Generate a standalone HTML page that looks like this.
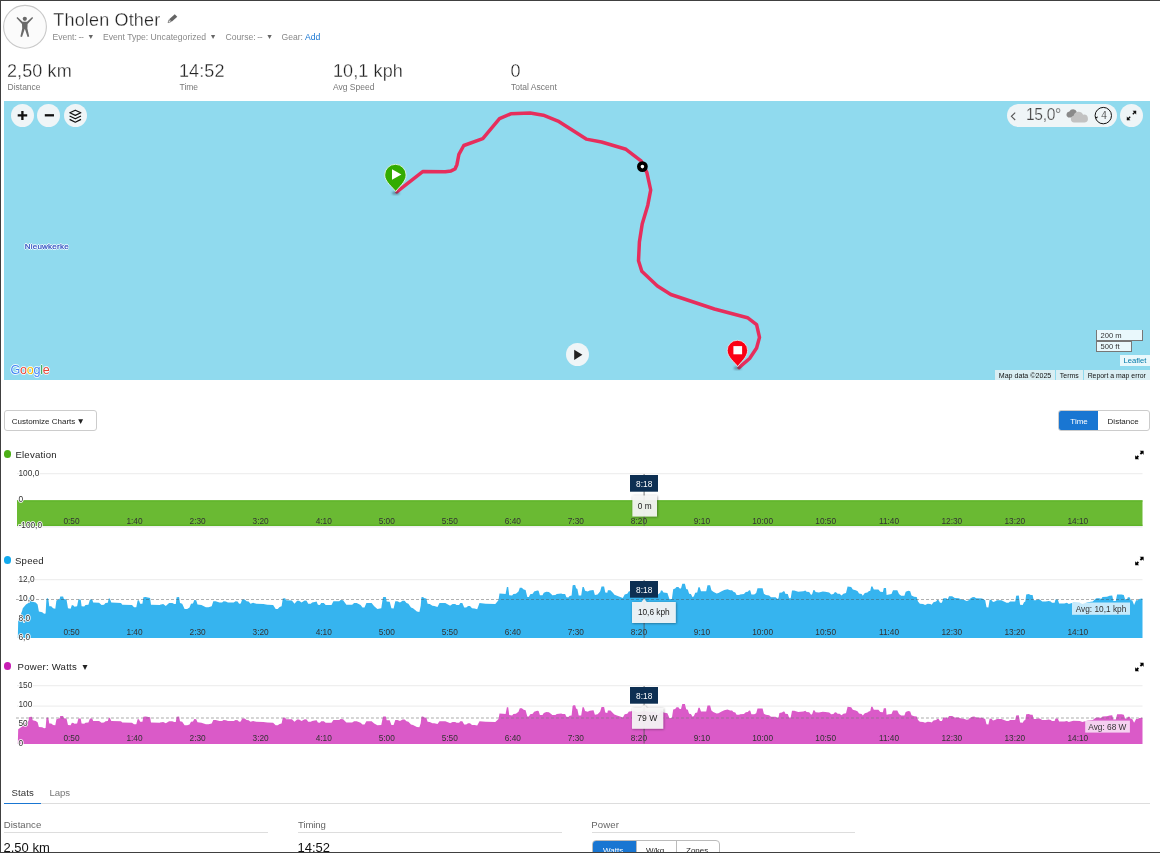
<!DOCTYPE html>
<html><head><meta charset="utf-8"><title>Tholen Other</title>
<style>
*{box-sizing:border-box;margin:0;padding:0}
html,body{width:1160px;height:853px;overflow:hidden;background:#fff}
body{font-family:"Liberation Sans",sans-serif;color:#222;position:relative}
.abs{position:absolute}
.bt{left:0;top:0;width:1160px;height:1px;background:#404040}
.bl{left:0;top:0;width:1px;height:853px;background:#404040}
.bb{left:0;top:852px;width:1160px;height:1px;background:#404040}
.t{position:absolute;white-space:nowrap;line-height:1}
.title{left:53.3px;top:10.85px;font-size:18px;color:#222;letter-spacing:.17px;-webkit-text-stroke:.3px #fff}
.sub{font-size:8.6px;color:#888;top:32.7px}
.ar{font-size:7.2px;position:relative;top:-0.4px;margin-left:1.2px;color:#666}
.val{font-size:18px;color:#222;top:61.5px;letter-spacing:.1px;-webkit-text-stroke:.3px #fff}
.lab{font-size:8.5px;color:#777;top:82.7px}
#map{left:4px;top:101px;width:1146px;height:279px;background:#90daee;overflow:hidden}
.cbtn{position:absolute;width:23px;height:23px;border-radius:50%;background:#eff5f7}
#wrap{position:absolute;left:0;top:0;width:1160px;height:853px;will-change:transform;overflow:hidden}
</style></head><body><div id="wrap">
<div class="abs bt"></div><div class="abs bl"></div><div class="abs bb"></div>

<!-- header -->
<svg class="abs" style="left:3px;top:4px" width="45" height="45" viewBox="0 0 45 45">
<circle cx="22" cy="22.8" r="21.4" fill="#fbfbfb" stroke="#c8c8c8" stroke-width="1.1"/>
<g fill="#6a6a6a"><circle cx="21.8" cy="14.8" r="2.1"/>
<path d="M13.5,13.9 L14.4,13.1 L19.6,17.8 L24,17.8 L29.2,13.1 L30.1,13.9 L24.6,20 L24.4,24.5 L26.2,32.6 L24.6,32.9 L21.8,24.8 L19,32.9 L17.4,32.6 L19.2,24.5 L19,20 Z"/></g>
</svg>
<div class="t title">Tholen Other</div>
<svg class="abs" style="left:167px;top:13.2px" width="11.9" height="10.8" viewBox="0 0 11 10"><path d="M7.2,1.1 L9.5,3.4 L4.3,8 L2,5.7 Z" fill="#646464"/><path d="M1.8,6.3 L3.6,8.1 L1,9 Z" fill="#fff" stroke="#6a6a6a" stroke-width=".7" stroke-linejoin="round"/></svg>
<div class="t sub" style="left:52.5px">Event:<span style="letter-spacing:-0.3px;margin-left:1.6px">--</span> <span class="ar">&#9660;</span></div>
<div class="t sub" style="left:103px">Event Type: Uncategorized <span class="ar">&#9660;</span></div>
<div class="t sub" style="left:225.5px">Course:<span style="letter-spacing:-0.3px;margin-left:1.6px">--</span> <span class="ar">&#9660;</span></div>
<div class="t sub" style="left:281.5px">Gear: <span style="color:#1976d2">Add</span></div>

<!-- stats -->
<div class="t val" style="left:7px">2,50 km</div><div class="t lab" style="left:7.5px">Distance</div>
<div class="t val" style="left:179px">14:52</div><div class="t lab" style="left:179.5px">Time</div>
<div class="t val" style="left:333px">10,1 kph</div><div class="t lab" style="left:333px">Avg Speed</div>
<div class="t val" style="left:510.5px">0</div><div class="t lab" style="left:511px">Total Ascent</div>

<!-- map -->
<div id="map" class="abs">

<!-- pins -->
<svg class="abs" style="left:0;top:0" width="1146" height="279" viewBox="4 101 1146 279">
<defs><filter id="bl" x="-50%" y="-50%" width="200%" height="200%"><feGaussianBlur stdDeviation="1.2"/></filter></defs>
<path d="M396.8,191.8 L422.7,171.6 L445.3,171.8 L451.1,170.9 L455.0,169.0 L456.9,164.7 L458.9,154.3 L463.8,145.5 L482.8,138.6 L499.5,118.7 L510.8,113.8 L530.2,113.0 L543.3,115.2 L558.0,121.1 L586.2,139.1 L601.5,142.0 L626.0,149.3 L641.0,160.8 L646.9,172.6 L650.7,190.0 L647.8,205.2 L642.2,224.0 L639.4,242.0 L638.5,260.8 L641.8,271.2 L657.4,286.0 L670.8,294.5 L714.4,309.0 L747.5,317.7 L756.6,324.7 L759.5,337.4 L756.6,348.0 L749.6,358.5 L739.0,367.6" fill="none" stroke="#e62e5c" stroke-width="3.5" stroke-linejoin="round" stroke-linecap="round"/>
<ellipse cx="395.8" cy="193" rx="3.8" ry="1.5" fill="#234" opacity=".5" filter="url(#bl)"/>
<path d="M395.7,191.6 C392.9,187.4 384.7,181.8 384.7,175 A10.7,10.7 0 1 1 406.1,175 C406.1,181.8 398.5,187.4 395.7,191.6 Z" fill="#33ac00" stroke="#e4f5ec" stroke-width="0.9"/>
<path d="M392,169.3 L401.4,174.5 L392,179.8 Z" fill="#fff"/>
<circle cx="642.4" cy="166.6" r="3.6" fill="#fff" stroke="#000" stroke-width="3.6"/>
<ellipse cx="737.6" cy="368" rx="3.8" ry="1.5" fill="#234" opacity=".5" filter="url(#bl)"/>
<path d="M737.7,366.6 C735,362.6 727.2,357 727.2,350.5 A10.2,10.2 0 1 1 747.6,350.5 C747.6,357 740.4,362.6 737.7,366.6 Z" fill="#fb0014" stroke="#e4f0f6" stroke-width="0.8"/>
<rect x="733.4" y="346.1" width="8.7" height="8.2" fill="#fdfdfd"/>
</svg>
<!-- controls -->
<div class="cbtn" style="left:7px;top:3px"><svg width="23" height="23" viewBox="0 0 23 23"><path d="M6.7,11.3h9.5M11.4,6.9v9.1" stroke="#111" stroke-width="2.3" fill="none"/></svg></div>
<div class="cbtn" style="left:33px;top:3px"><svg width="23" height="23" viewBox="0 0 23 23"><path d="M7.8,11.3h9.2" stroke="#111" stroke-width="2.3" fill="none"/></svg></div>
<div class="cbtn" style="left:60px;top:3px"><svg width="23" height="23" viewBox="0 0 23 23"><g fill="none" stroke="#111" stroke-width="1.25" stroke-linejoin="round"><path d="M5.8,8.8 L11.3,6.2 L16.8,8.8 L11.3,11.4 Z"/><path d="M5.6,12 L11.3,14.8 L17,12"/><path d="M5.6,15.4 L11.3,18.2 L17,15.4"/></g></svg></div>
<div class="abs" style="left:1003px;top:3px;width:109.5px;height:23px;border-radius:11.5px;background:#eff5f7"></div>
<svg class="abs" style="left:1003px;top:3px" width="110" height="23" viewBox="0 0 110 23">
<path d="M8.2,8.6 L4.4,12.3 L8.2,16" fill="none" stroke="#555" stroke-width="1.1"/>
<path d="M61.2,13.4 a3.1,3.1 0 0 1 1.2,-5.9 a4,4 0 0 1 7.4,0.4 l-3,5.5 Z" fill="#8a8a8a"/>
<path d="M67,18.6 a3.5,3.5 0 0 1 -0.4,-6.9 a5,5 0 0 1 9.5,-1 a4,4 0 0 1 1.6,7.9 Z" fill="#c2c2c2"/>
<circle cx="96.3" cy="11.6" r="8.2" fill="none" stroke="#111" stroke-width="1"/>
<path d="M88.6,13.2 l2.4,-0.6 l-1.2,2.2 Z" fill="#111"/>
<text x="97" y="15.1" font-family="Liberation Sans, sans-serif" font-size="10" fill="#222" stroke="#eff5f7" stroke-width=".15" text-anchor="middle">4</text>
</svg>
<div class="t" style="left:1022px;top:6.3px;font-size:15.6px;color:#484848;letter-spacing:-0.35px;-webkit-text-stroke:.22px #eff5f7">15,0&#176;</div>
<div class="cbtn" style="left:1116px;top:3px"><svg width="23" height="23" viewBox="0 0 23 23"><g fill="#111" stroke="#111" stroke-width="1.3"><path d="M7.2,15.8 L10.2,12.8" fill="none"/><path d="M12.8,10.2 L15.8,7.2" fill="none"/><path d="M6.8,12.6 L6.8,16.2 L10.4,16.2 Z" stroke="none"/><path d="M12.6,6.8 L16.2,6.8 L16.2,10.4 Z" stroke="none"/></g></svg></div>
<div class="cbtn" style="left:562px;top:242px"><svg width="23" height="23" viewBox="0 0 23 23"><path d="M8.2,6.8 L16.4,11.8 L8.2,17 Z" fill="#222"/></svg></div>
<!-- place label -->
<div class="t" style="left:20.7px;top:141.6px;font-size:8px;letter-spacing:.24px;color:#2c4ec0;-webkit-text-stroke:.22px #2c4ec0;text-shadow:-.8px 0 #fff,.8px 0 #fff,0 -.8px #fff,0 .8px #fff,0 0 1.5px #fff,0 0 1.5px #fff">Nieuwkerke</div>
<!-- google logo -->
<div class="t" style="left:6.4px;top:262.7px;font-size:12.6px;letter-spacing:-0.25px;text-shadow:-.6px 0 rgba(255,255,255,.8),.6px 0 rgba(255,255,255,.8),0 -.6px rgba(255,255,255,.8),0 .6px rgba(255,255,255,.8),0 0 1.2px #fff"><span style="color:#4285f4">G</span><span style="color:#ea4335">o</span><span style="color:#fbbc05">o</span><span style="color:#4285f4">g</span><span style="color:#34a853">l</span><span style="color:#ea4335">e</span></div>
<!-- scale -->
<div class="abs" style="left:1092px;top:229px;width:47px;height:11px;border:1px solid #777;border-top:none;background:rgba(255,255,255,.8);font-size:7.6px;line-height:11.5px;padding-left:3.5px;color:#333">200 m</div>
<div class="abs" style="left:1092px;top:239.5px;width:36px;height:11.5px;border:1px solid #777;border-top:1px solid #777;background:rgba(255,255,255,.8);font-size:7.6px;line-height:10px;padding-left:3.5px;color:#333">500 ft</div>
<div class="abs" style="left:1116px;top:254px;width:30px;height:11px;background:rgba(255,255,255,.8);font-size:7.6px;line-height:11px;text-align:center;color:#0078a8">Leaflet</div>
<div class="abs" style="left:991px;top:269px;width:60px;height:10px;background:rgba(245,245,245,.72);font-size:7.1px;line-height:12px;text-align:center;color:#111">Map data &#169;2025</div>
<div class="abs" style="left:1052px;top:269px;width:26.5px;height:10px;background:rgba(245,245,245,.72);font-size:6.9px;line-height:11px;text-align:center;color:#111">Terms</div>
<div class="abs" style="left:1079.5px;top:269px;width:66.5px;height:10px;background:rgba(245,245,245,.72);font-size:6.9px;line-height:11px;text-align:center;color:#111">Report a map error</div>
</div>


<!-- chart controls -->
<div class="abs" style="left:4px;top:410px;width:93px;height:21px;border:1px solid #ccc;border-radius:3px;background:#fff"></div>
<div class="t" style="left:11.7px;top:416.8px;font-size:8px;color:#222">Customize Charts<span style="font-size:8.4px;margin-left:1.2px;position:relative;top:.2px">&#9660;</span></div>
<div class="abs" style="left:1058px;top:410px;width:92px;height:21px;border:1px solid #ccc;border-radius:3px;background:#fff;overflow:hidden"><div class="abs" style="left:-1px;top:-1px;width:40px;height:21px;background:#1976d2"></div></div>
<div class="t" style="left:1070.3px;top:417.9px;font-size:8px;color:#fff">Time</div>
<div class="t" style="left:1107.6px;top:417.9px;font-size:8px;color:#222">Distance</div>
<!-- chart titles -->
<div class="abs" style="left:4px;top:450.4px;width:7.2px;height:7.2px;border-radius:50%;background:#4caf17"></div>
<div class="t" style="left:15.4px;top:450.1px;font-size:9.6px;letter-spacing:.22px;color:#222">Elevation</div>
<div class="abs" style="left:4px;top:556.4px;width:7.2px;height:7.2px;border-radius:50%;background:#11a9ed"></div>
<div class="t" style="left:15px;top:556px;font-size:9.6px;letter-spacing:.22px;color:#222">Speed</div>
<div class="abs" style="left:4px;top:662.4px;width:7.2px;height:7.2px;border-radius:50%;background:#c81fb4"></div>
<div class="t" style="left:17.6px;top:661.7px;font-size:9.6px;letter-spacing:.22px;color:#222">Power: Watts<span style="font-size:8.6px;margin-left:3.8px;position:relative;top:.1px">&#9660;</span></div>
<!-- charts -->
<svg class="abs" style="left:0;top:0" width="1160" height="853" viewBox="0 0 1160 853" font-family="Liberation Sans, sans-serif" font-size="8.3" fill="#333">
<!-- elevation -->
<line x1="17" x2="1142.5" y1="473.7" y2="473.7" stroke="#efefef" stroke-width="1.3"/>
<rect x="17" y="500.3" width="1125.5" height="25.6" fill="#6aba33"/><rect x="17" y="500.4" width="1125.5" height="1.2" fill="#5fb52a"/><rect x="17" y="524.7" width="1125.5" height="1.2" fill="#5cb327"/><rect x="17" y="526" width="1125.5" height="1.6" fill="#000" fill-opacity=".06"/>
<g><text x="79.6" y="524.0" text-anchor="end">0:50</text><text x="142.6" y="524.0" text-anchor="end">1:40</text><text x="205.7" y="524.0" text-anchor="end">2:30</text><text x="268.7" y="524.0" text-anchor="end">3:20</text><text x="331.8" y="524.0" text-anchor="end">4:10</text><text x="394.8" y="524.0" text-anchor="end">5:00</text><text x="457.8" y="524.0" text-anchor="end">5:50</text><text x="520.9" y="524.0" text-anchor="end">6:40</text><text x="583.9" y="524.0" text-anchor="end">7:30</text><text x="647.0" y="524.0" text-anchor="end">8:20</text><text x="710.0" y="524.0" text-anchor="end">9:10</text><text x="773.0" y="524.0" text-anchor="end">10:00</text><text x="836.1" y="524.0" text-anchor="end">10:50</text><text x="899.1" y="524.0" text-anchor="end">11:40</text><text x="962.2" y="524.0" text-anchor="end">12:30</text><text x="1025.2" y="524.0" text-anchor="end">13:20</text><text x="1088.2" y="524.0" text-anchor="end">14:10</text></g>
<!-- speed -->
<line x1="17" x2="1142.5" y1="579.7" y2="579.7" stroke="#efefef" stroke-width="1.3"/>
<path d="M17.8,637.9L17.8,638.0L18.2,621.2L22.1,610.9L22.8,608.3L26.0,604.4L28.4,603.1L29.2,597.4L31.9,597.2L32.7,601.8L35.7,602.5L37.6,604.4L38.9,611.5L42.2,612.2L44.1,613.7L45.6,613.4L46.4,599.2L47.3,597.9L48.4,599.2L49.3,606.3L51.2,606.3L53.1,608.3L55.3,608.7L56.4,600.5L59.6,599.0L60.3,596.4L63.1,596.4L63.9,599.0L66.5,599.5L68.0,608.3L70.6,608.7L71.9,605.0L73.4,605.4L74.5,606.7L77.1,606.3L78.4,599.5L80.7,599.5L81.6,606.3L84.2,606.6L85.5,605.0L88.4,604.7L90.0,599.5L92.2,599.5L93.2,602.5L99.1,602.8L101.6,605.0L104.0,604.8L105.5,603.1L107.8,602.8L108.8,598.6L109.8,598.6L111.3,602.5L121.0,603.1L122.3,604.7L132.0,605.0L134.0,607.2L136.3,607.2L137.6,600.5L138.9,600.3L140.2,603.8L142.4,603.8L143.4,597.3L145.6,596.9L150.1,597.9L151.0,604.7L159.8,605.0L160.0,604.7L163.2,604.1L165.8,605.9L169.1,603.1L172.3,603.1L174.2,604.1L175.8,604.1L176.6,597.3L179.1,597.0L180.0,603.1L182.2,603.8L184.6,608.9L187.2,608.9L189.5,607.6L191.0,603.8L193.0,603.4L194.3,599.9L196.2,600.3L197.5,604.4L201.4,605.0L205.9,607.2L208.5,607.2L211.7,606.3L213.3,601.2L215.6,601.2L219.5,602.5L222.1,602.5L223.6,601.2L225.9,601.6L227.9,602.5L233.7,602.5L235.6,601.2L237.6,601.6L239.1,603.8L240.8,603.4L242.1,599.5L244.7,599.5L246.6,601.2L248.6,601.6L250.5,603.8L253.1,602.8L256.3,603.8L263.4,604.1L267.3,604.7L273.1,605.0L275.7,608.9L277.7,608.9L279.6,607.0L281.6,606.3L282.8,598.6L285.2,598.3L286.1,600.3L291.9,600.5L294.5,603.8L297.1,600.8L299.0,600.8L301.6,602.5L304.2,600.8L305.0,600.5L306.6,600.8L308.2,603.8L310.8,603.8L312.1,602.5L314.7,602.1L316.6,601.6L317.9,604.7L319.9,605.0L321.2,603.1L323.8,603.1L325.7,605.0L331.5,605.0L333.4,601.2L339.3,601.2L340.6,599.9L343.1,600.3L346.4,604.7L352.2,604.7L354.1,603.1L356.7,603.1L360.6,605.0L362.5,607.6L364.5,607.6L366.4,603.1L371.6,603.1L374.2,606.3L377.4,608.9L381.3,608.3L382.6,599.2L383.2,596.9L385.8,596.9L386.7,601.6L389.7,601.8L391.4,608.3L393.6,608.5L395.3,601.2L397.5,601.2L400.0,602.5L402.6,600.8L404.6,600.8L406.5,603.1L408.4,603.8L411.0,607.6L413.0,608.3L416.9,611.5L419.4,611.9L420.7,605.7L421.4,597.3L422.9,597.0L424.6,598.3L426.3,598.6L427.6,603.8L429.8,604.1L432.4,605.7L434.3,605.9L437.5,607.0L439.5,603.1L445.3,603.1L447.9,604.4L449.8,605.4L450.0,605.7L452.6,604.1L455.2,604.1L456.5,605.0L459.1,605.0L460.3,603.1L462.3,603.1L464.2,607.6L466.2,607.6L468.1,605.9L470.0,605.9L472.0,608.3L474.6,608.5L477.2,609.3L479.5,603.1L485.6,603.8L495.3,604.1L497.2,601.8L498.5,599.9L499.5,593.4L503.0,593.8L505.6,594.1L506.9,586.9L508.2,586.9L509.2,595.3L512.1,595.6L513.4,594.1L515.9,593.8L518.5,591.5L519.8,587.8L521.8,587.8L523.7,589.5L525.6,589.9L527.3,596.9L528.9,596.9L530.2,594.3L532.8,593.8L534.1,591.5L537.3,590.4L538.6,590.8L539.9,595.3L542.5,595.3L543.8,592.8L546.3,591.7L548.9,592.1L551.5,594.3L552.2,595.3L555.4,595.1L556.7,594.1L561.2,593.4L562.5,594.1L565.1,594.1L566.4,597.3L568.3,597.5L569.6,596.0L571.6,595.6L572.6,585.6L573.5,585.0L575.2,585.0L576.1,588.2L577.4,588.9L578.7,595.6L581.2,595.6L582.5,586.9L583.8,586.9L585.1,590.8L587.7,591.5L589.7,590.4L593.5,589.9L594.8,594.7L595.0,595.0L597.6,594.4L600.2,591.2L601.5,586.6L604.1,586.6L605.3,592.5L607.3,592.8L607.9,590.3L610.5,590.3L613.1,593.1L614.4,594.7L617.0,595.7L620.9,597.2L622.8,598.0L624.7,594.4L627.3,593.8L628.9,591.2L630.2,591.2L633.8,590.5L637.7,592.5L644.1,590.5L649.3,591.8L654.5,591.2L658.0,594.4L660.3,592.5L660.9,590.5L662.2,590.5L663.5,592.5L667.4,593.1L669.4,598.9L671.9,598.9L673.2,589.2L675.2,588.6L676.5,586.9L678.4,586.9L679.7,588.6L681.0,588.6L682.3,583.8L684.9,583.8L686.2,589.0L687.8,589.5L689.1,593.8L690.9,594.1L692.6,597.2L693.9,596.3L695.2,592.8L697.2,592.5L698.4,587.3L699.7,587.3L701.0,591.2L706.2,591.2L707.5,585.3L710.1,585.3L711.4,590.3L713.3,591.8L716.6,593.4L718.5,593.1L721.1,591.6L724.3,589.9L727.5,589.2L730.1,590.3L732.1,590.3L733.4,591.8L735.3,592.5L736.6,595.0L739.2,595.0L740.0,594.4L743.9,594.1L745.8,592.1L747.8,591.8L749.1,590.3L750.3,590.5L751.4,594.4L754.2,594.4L756.2,593.1L757.5,588.2L762.6,588.2L763.9,593.8L765.9,595.0L769.1,595.4L771.0,597.2L775.6,597.2L777.5,598.9L778.5,598.3L779.4,592.8L782.0,592.5L783.3,591.2L784.6,591.6L785.3,593.8L787.8,594.1L789.1,598.3L790.7,598.3L792.0,590.5L794.3,590.5L798.2,591.8L803.4,591.2L805.3,590.5L806.6,591.8L809.2,592.1L811.1,595.0L812.2,594.1L813.4,589.9L814.7,590.3L815.6,592.1L818.9,592.5L822.8,591.6L825.3,591.8L829.2,592.5L831.2,594.4L833.4,594.1L835.0,592.1L836.3,592.5L837.6,593.8L839.6,593.8L841.5,595.4L843.4,593.8L846.0,593.1L847.6,586.4L851.2,586.9L852.8,589.5L855.7,590.3L857.7,591.2L859.0,593.4L861.6,594.1L862.8,595.7L864.8,593.1L867.4,592.5L868.7,591.2L870.3,590.8L871.2,586.4L872.5,586.4L873.8,589.5L878.4,589.5L880.3,591.8L882.9,592.1L883.8,587.9L884.6,587.9L885.0,587.9L886.0,587.9L886.6,595.0L888.9,594.4L891.5,594.1L893.0,590.3L897.3,590.3L899.0,594.1L901.2,595.7L904.4,595.7L905.7,591.8L908.3,590.8L910.2,591.2L911.5,595.4L914.1,596.7L916.7,597.0L918.0,601.5L919.9,603.7L923.1,604.1L925.1,605.0L927.7,603.7L930.3,604.1L931.6,604.7L933.5,602.2L936.1,601.5L937.4,599.8L938.7,600.2L940.0,602.8L941.9,602.8L943.4,598.3L946.4,598.3L947.7,599.6L949.0,596.3L952.2,596.3L954.8,598.0L958.7,598.3L961.3,599.6L963.9,599.8L966.5,601.1L968.4,600.6L969.7,598.9L972.3,597.2L974.2,597.0L976.2,598.3L982.0,598.5L983.9,599.6L985.2,600.2L986.5,607.3L988.4,607.6L989.7,599.6L991.7,600.2L993.0,601.9L994.9,601.5L996.9,600.2L1001.4,600.2L1004.0,601.5L1006.6,602.8L1008.5,602.8L1009.8,601.8L1010.0,601.5L1015.2,601.5L1016.2,595.7L1018.8,595.4L1020.1,604.7L1022.7,605.0L1024.0,602.2L1025.3,601.5L1026.2,594.4L1028.8,594.1L1030.7,595.0L1032.6,595.0L1033.7,600.2L1035.9,600.2L1037.8,599.6L1039.7,599.6L1042.3,601.5L1045.6,601.5L1048.8,600.9L1050.7,601.5L1052.0,602.8L1054.6,602.8L1055.5,599.6L1057.8,599.6L1059.1,603.4L1064.3,603.4L1066.9,602.8L1068.8,604.1L1073.4,602.4L1079.8,602.8L1082.4,604.1L1087.6,602.2L1092.8,601.5L1095.3,598.9L1096.6,598.3L1099.2,598.3L1101.2,598.9L1102.5,597.0L1107.0,596.7L1109.6,595.7L1112.2,595.4L1113.4,600.9L1115.8,600.9L1117.1,594.4L1121.5,594.4L1123.8,595.0L1125.1,599.3L1127.0,599.3L1127.9,597.2L1129.6,597.2L1130.9,600.2L1132.2,600.2L1134.1,605.0L1136.1,600.2L1138.0,600.2L1139.3,598.9L1141.9,598.5L1142.5,598.8L1142.5,637.9 Z" fill="#36b4ef"/>
<g><text x="79.6" y="635.4" text-anchor="end">0:50</text><text x="142.6" y="635.4" text-anchor="end">1:40</text><text x="205.7" y="635.4" text-anchor="end">2:30</text><text x="268.7" y="635.4" text-anchor="end">3:20</text><text x="331.8" y="635.4" text-anchor="end">4:10</text><text x="394.8" y="635.4" text-anchor="end">5:00</text><text x="457.8" y="635.4" text-anchor="end">5:50</text><text x="520.9" y="635.4" text-anchor="end">6:40</text><text x="583.9" y="635.4" text-anchor="end">7:30</text><text x="647.0" y="635.4" text-anchor="end">8:20</text><text x="710.0" y="635.4" text-anchor="end">9:10</text><text x="773.0" y="635.4" text-anchor="end">10:00</text><text x="836.1" y="635.4" text-anchor="end">10:50</text><text x="899.1" y="635.4" text-anchor="end">11:40</text><text x="962.2" y="635.4" text-anchor="end">12:30</text><text x="1025.2" y="635.4" text-anchor="end">13:20</text><text x="1088.2" y="635.4" text-anchor="end">14:10</text></g>
<!-- power -->
<line x1="17" x2="1142.5" y1="685.7" y2="685.7" stroke="#efefef" stroke-width="1.3"/>
<line x1="17" x2="1142.5" y1="706.2" y2="706.2" stroke="#efefef" stroke-width="1.3"/>
<path d="M17.8,744.0L17.8,744.0L18.2,729.3L22.1,726.5L22.8,724.9L26.0,722.2L28.4,721.3L29.2,716.9L31.9,716.7L32.7,720.3L35.7,720.9L37.6,722.2L38.9,726.9L42.2,727.3L44.1,728.2L45.6,728.0L46.4,718.3L47.3,717.3L48.4,718.3L49.3,723.6L51.2,723.6L53.1,724.9L55.3,725.2L56.4,719.3L59.6,718.2L60.3,716.0L63.1,716.0L63.9,718.2L66.5,718.6L68.0,724.9L70.6,725.2L71.9,722.7L73.4,722.9L74.5,723.8L77.1,723.6L78.4,718.6L80.7,718.6L81.6,723.6L84.2,723.8L85.5,722.7L88.4,722.5L90.0,718.6L92.2,718.6L93.2,720.9L99.1,721.1L101.6,722.7L104.0,722.5L105.5,721.3L107.8,721.1L108.8,717.8L109.8,717.8L111.3,720.9L121.0,721.3L122.3,722.5L132.0,722.7L134.0,724.2L136.3,724.2L137.6,719.3L138.9,719.2L140.2,721.8L142.4,721.8L143.4,716.8L145.6,716.4L150.1,717.3L151.0,722.5L159.8,722.7L160.0,722.5L163.2,722.0L165.8,723.3L169.1,721.3L172.3,721.3L174.2,722.0L175.8,722.0L176.6,716.8L179.1,716.5L180.0,721.3L182.2,721.8L184.6,725.3L187.2,725.3L189.5,724.4L191.0,721.8L193.0,721.5L194.3,718.9L196.2,719.2L197.5,722.2L201.4,722.7L205.9,724.2L208.5,724.2L211.7,723.6L213.3,719.9L215.6,719.9L219.5,720.9L222.1,720.9L223.6,719.9L225.9,720.2L227.9,720.9L233.7,720.9L235.6,719.9L237.6,720.2L239.1,721.8L240.8,721.5L242.1,718.6L244.7,718.6L246.6,719.9L248.6,720.2L250.5,721.8L253.1,721.1L256.3,721.8L263.4,722.0L267.3,722.5L273.1,722.7L275.7,725.3L277.7,725.3L279.6,724.0L281.6,723.6L282.8,717.8L285.2,717.6L286.1,719.2L291.9,719.3L294.5,721.8L297.1,719.6L299.0,719.6L301.6,720.9L304.2,719.6L305.0,719.3L306.6,719.6L308.2,721.8L310.8,721.8L312.1,720.9L314.7,720.6L316.6,720.2L317.9,722.5L319.9,722.7L321.2,721.3L323.8,721.3L325.7,722.7L331.5,722.7L333.4,719.9L339.3,719.9L340.6,718.9L343.1,719.2L346.4,722.5L352.2,722.5L354.1,721.3L356.7,721.3L360.6,722.7L362.5,724.4L364.5,724.4L366.4,721.3L371.6,721.3L374.2,723.6L377.4,725.3L381.3,724.9L382.6,718.3L383.2,716.4L385.8,716.4L386.7,720.2L389.7,720.3L391.4,724.9L393.6,725.0L395.3,719.9L397.5,719.9L400.0,720.9L402.6,719.6L404.6,719.6L406.5,721.3L408.4,721.8L411.0,724.4L413.0,724.9L416.9,726.9L419.4,727.2L420.7,723.2L421.4,716.8L422.9,716.5L424.6,717.6L426.3,717.8L427.6,721.8L429.8,722.0L432.4,723.2L434.3,723.3L437.5,724.0L439.5,721.3L445.3,721.3L447.9,722.2L449.8,722.9L450.0,723.2L452.6,722.0L455.2,722.0L456.5,722.7L459.1,722.7L460.3,721.3L462.3,721.3L464.2,724.4L466.2,724.4L468.1,723.3L470.0,723.3L472.0,724.9L474.6,725.0L477.2,725.5L479.5,721.3L485.6,721.8L495.3,722.0L497.2,720.3L498.5,718.9L499.5,713.4L503.0,713.8L505.6,714.1L506.9,707.2L508.2,707.2L509.2,715.1L512.1,715.4L513.4,714.1L515.9,713.8L518.5,711.7L519.8,708.2L521.8,708.2L523.7,709.8L525.6,710.2L527.3,716.4L528.9,716.4L530.2,714.2L532.8,713.8L534.1,711.7L537.3,710.7L538.6,711.0L539.9,715.1L542.5,715.1L543.8,712.9L546.3,711.9L548.9,712.3L551.5,714.2L552.2,715.1L555.4,714.9L556.7,714.1L561.2,713.4L562.5,714.1L565.1,714.1L566.4,716.8L568.3,716.9L569.6,715.7L571.6,715.4L572.6,705.9L573.5,705.3L575.2,705.3L576.1,708.5L577.4,709.2L578.7,715.4L581.2,715.4L582.5,707.2L583.8,707.2L585.1,711.0L587.7,711.7L589.7,710.7L593.5,710.2L594.8,714.6L595.0,714.8L597.6,714.3L600.2,711.4L601.5,706.9L604.1,706.9L605.3,712.6L607.3,712.9L607.9,710.6L610.5,710.6L613.1,713.2L614.4,714.6L617.0,715.4L620.9,716.7L622.8,717.4L624.7,714.3L627.3,713.8L628.9,711.4L630.2,711.4L633.8,710.8L637.7,712.6L644.1,710.8L649.3,712.0L654.5,711.4L658.0,714.3L660.3,712.6L660.9,710.8L662.2,710.8L663.5,712.6L667.4,713.2L669.4,718.1L671.9,718.1L673.2,709.5L675.2,708.9L676.5,707.2L678.4,707.2L679.7,708.9L681.0,708.9L682.3,704.0L684.9,704.0L686.2,709.3L687.8,709.8L689.1,713.8L690.9,714.1L692.6,716.7L693.9,715.9L695.2,712.9L697.2,712.6L698.4,707.7L699.7,707.7L701.0,711.4L706.2,711.4L707.5,705.6L710.1,705.6L711.4,710.6L713.3,712.0L716.6,713.4L718.5,713.2L721.1,711.8L724.3,710.2L727.5,709.5L730.1,710.6L732.1,710.6L733.4,712.0L735.3,712.6L736.6,714.8L739.2,714.8L740.0,714.3L743.9,714.1L745.8,712.3L747.8,712.0L749.1,710.6L750.3,710.8L751.4,714.3L754.2,714.3L756.2,713.2L757.5,708.5L762.6,708.5L763.9,713.8L765.9,714.8L769.1,715.2L771.0,716.7L775.6,716.7L777.5,718.1L778.5,717.6L779.4,712.9L782.0,712.6L783.3,711.4L784.6,711.8L785.3,713.8L787.8,714.1L789.1,717.6L790.7,717.6L792.0,710.8L794.3,710.8L798.2,712.0L803.4,711.4L805.3,710.8L806.6,712.0L809.2,712.3L811.1,714.8L812.2,714.1L813.4,710.2L814.7,710.6L815.6,712.3L818.9,712.6L822.8,711.8L825.3,712.0L829.2,712.6L831.2,714.3L833.4,714.1L835.0,712.3L836.3,712.6L837.6,713.8L839.6,713.8L841.5,715.2L843.4,713.8L846.0,713.2L847.6,706.7L851.2,707.2L852.8,709.8L855.7,710.6L857.7,711.4L859.0,713.4L861.6,714.1L862.8,715.4L864.8,713.2L867.4,712.6L868.7,711.4L870.3,711.0L871.2,706.7L872.5,706.7L873.8,709.8L878.4,709.8L880.3,712.0L882.9,712.3L883.8,708.3L884.6,708.3L885.0,708.3L886.0,708.3L886.6,714.8L888.9,714.3L891.5,714.1L893.0,710.6L897.3,710.6L899.0,714.1L901.2,715.4L904.4,715.4L905.7,712.0L908.3,711.0L910.2,711.4L911.5,715.2L914.1,716.3L916.7,716.5L918.0,720.1L919.9,721.7L923.1,722.0L925.1,722.7L927.7,721.7L930.3,722.0L931.6,722.5L933.5,720.6L936.1,720.1L937.4,718.8L938.7,719.1L940.0,721.1L941.9,721.1L943.4,717.6L946.4,717.6L947.7,718.6L949.0,715.9L952.2,715.9L954.8,717.4L958.7,717.6L961.3,718.6L963.9,718.8L966.5,719.8L968.4,719.4L969.7,718.1L972.3,716.7L974.2,716.5L976.2,717.6L982.0,717.8L983.9,718.6L985.2,719.1L986.5,724.2L988.4,724.4L989.7,718.6L991.7,719.1L993.0,720.4L994.9,720.1L996.9,719.1L1001.4,719.1L1004.0,720.1L1006.6,721.1L1008.5,721.1L1009.8,720.3L1010.0,720.1L1015.2,720.1L1016.2,715.4L1018.8,715.2L1020.1,722.5L1022.7,722.7L1024.0,720.6L1025.3,720.1L1026.2,714.3L1028.8,714.1L1030.7,714.8L1032.6,714.8L1033.7,719.1L1035.9,719.1L1037.8,718.6L1039.7,718.6L1042.3,720.1L1045.6,720.1L1048.8,719.6L1050.7,720.1L1052.0,721.1L1054.6,721.1L1055.5,718.6L1057.8,718.6L1059.1,721.5L1064.3,721.5L1066.9,721.1L1068.8,722.0L1073.4,720.8L1079.8,721.1L1082.4,722.0L1087.6,720.6L1092.8,720.1L1095.3,718.1L1096.6,717.6L1099.2,717.6L1101.2,718.1L1102.5,716.5L1107.0,716.3L1109.6,715.4L1112.2,715.2L1113.4,719.6L1115.8,719.6L1117.1,714.3L1121.5,714.3L1123.8,714.8L1125.1,718.4L1127.0,718.4L1127.9,716.7L1129.6,716.7L1130.9,719.1L1132.2,719.1L1134.1,722.7L1136.1,719.1L1138.0,719.1L1139.3,718.1L1141.9,717.8L1142.5,718.0L1142.5,744.0 Z" fill="#da5ac8"/>
<g><text x="79.6" y="741.2" text-anchor="end">0:50</text><text x="142.6" y="741.2" text-anchor="end">1:40</text><text x="205.7" y="741.2" text-anchor="end">2:30</text><text x="268.7" y="741.2" text-anchor="end">3:20</text><text x="331.8" y="741.2" text-anchor="end">4:10</text><text x="394.8" y="741.2" text-anchor="end">5:00</text><text x="457.8" y="741.2" text-anchor="end">5:50</text><text x="520.9" y="741.2" text-anchor="end">6:40</text><text x="583.9" y="741.2" text-anchor="end">7:30</text><text x="647.0" y="741.2" text-anchor="end">8:20</text><text x="710.0" y="741.2" text-anchor="end">9:10</text><text x="773.0" y="741.2" text-anchor="end">10:00</text><text x="836.1" y="741.2" text-anchor="end">10:50</text><text x="899.1" y="741.2" text-anchor="end">11:40</text><text x="962.2" y="741.2" text-anchor="end">12:30</text><text x="1025.2" y="741.2" text-anchor="end">13:20</text><text x="1088.2" y="741.2" text-anchor="end">14:10</text></g>

<!-- avg dashed lines -->
<line x1="16" x2="1142.5" y1="599.5" y2="599.5" stroke="#4c4c4c" stroke-opacity=".44" stroke-width="1" stroke-dasharray="3,2"/>
<line x1="16" x2="1142.5" y1="718" y2="718" stroke="#787878" stroke-opacity=".31" stroke-width="2" stroke-dasharray="2.9,2.1"/>
<!-- y labels -->
<g text-anchor="start" stroke="#fff" stroke-width="1.6" stroke-linejoin="round" paint-order="stroke" style="paint-order:stroke">
<text x="18.5" y="475.8">100,0</text><text x="18.5" y="502">0</text><text x="18.5" y="527.9">-100,0</text>
<text x="18.5" y="581.9">12,0</text><text x="18.5" y="601.2">10,0</text><text x="18.5" y="620.5">8,0</text><text x="18.5" y="640">6,0</text>
<text x="18.5" y="687.8">150</text><text x="18.5" y="706.9">100</text><text x="18.5" y="725.8">50</text><text x="18.5" y="745.5">0</text>
</g>
<!-- avg dashed -->
<rect x="1072" y="602.5" width="58" height="12.3" fill="#fff" fill-opacity=".72"/>
<text x="1101" y="611.8" text-anchor="middle" font-size="8.3">Avg: 10,1 kph</text>
<rect x="1085.2" y="720.6" width="44.7" height="12" fill="#fff" fill-opacity=".72"/>
<text x="1107.4" y="729.8" text-anchor="middle" font-size="8.3">Avg: 68 W</text>
<!-- crosshair -->
<g stroke="#555" stroke-width="0.8"><line x1="644.1" x2="644.1" y1="474" y2="526"/><line x1="644.1" x2="644.1" y1="580" y2="638"/><line x1="644.1" x2="644.1" y1="686" y2="743.5"/></g>
<g fill="#0d2f52"><rect x="630" y="475" width="28" height="16.7"/><rect x="630" y="581" width="28" height="16.7"/><rect x="630" y="687" width="28" height="16.7"/></g>
<g fill="#fff" text-anchor="middle" font-size="8.3"><text x="644.2" y="487.2">8:18</text><text x="644.2" y="593.2">8:18</text><text x="644.2" y="699.2">8:18</text></g>
<defs><filter id="sh" x="-20%" y="-20%" width="150%" height="150%"><feDropShadow dx=".6" dy=".6" stdDeviation="1.1" flood-color="#000" flood-opacity=".45"/></filter></defs>
<g filter="url(#sh)" fill="#f8f8f8" fill-opacity=".9">
<rect x="632.4" y="495.5" width="24.6" height="21"/>
<path d="M632,602 h9.6 l2.5,-3.6 l2.5,3.6 h29.2 v21 h-43.8 Z"/>
<path d="M632,708 h9.6 l2.5,-3.6 l2.5,3.6 h16.6 v20.8 h-31.2 Z"/>
</g>
<g text-anchor="middle" font-size="8.3" fill="#222"><text x="644.7" y="509">0 m</text><text x="653.8" y="615.4">10,6 kph</text><text x="647.3" y="721.4" font-size="8.6">79 W</text></g>
<!-- expand icons -->
<g id="exp" fill="#000" stroke="#000" stroke-width="1.8"><path d="M1136.2,458.2 L1138.4,456" fill="none"/><path d="M1140.4,454 L1142.6,451.8" fill="none"/><path d="M1135.2,455.3 L1135.2,459.2 L1139.1,459.2 Z" stroke="none"/><path d="M1139.7,450.8 L1143.6,450.8 L1143.6,454.7 Z" stroke="none"/></g>
<use href="#exp" y="106"/><use href="#exp" y="212"/>
</svg>

<!-- tabs -->
<div class="t" style="left:11.5px;top:787.7px;font-size:9.6px;color:#333;letter-spacing:.08px">Stats</div>
<div class="t" style="left:49.5px;top:787.7px;font-size:9.6px;color:#777;letter-spacing:-0.1px">Laps</div>
<div class="abs" style="left:4px;top:803px;width:1146px;height:1px;background:#ddd"></div>
<div class="abs" style="left:4px;top:802.6px;width:37px;height:1.6px;background:#1976d2"></div>
<div class="t" style="left:3.7px;top:819.6px;font-size:9.6px;color:#666;letter-spacing:.03px">Distance</div>
<div class="abs" style="left:4px;top:832px;width:263.5px;height:1px;background:#ddd"></div>
<div class="t" style="left:3.5px;top:841px;font-size:13px;color:#111">2,50 km</div>
<div class="t" style="left:298px;top:819.6px;font-size:9.6px;color:#666;letter-spacing:-0.1px">Timing</div>
<div class="abs" style="left:298px;top:832px;width:263.5px;height:1px;background:#ddd"></div>
<div class="t" style="left:297.5px;top:841px;font-size:13px;color:#111">14:52</div>
<div class="t" style="left:591.3px;top:819.6px;font-size:9.6px;color:#666;letter-spacing:.12px">Power</div>
<div class="abs" style="left:591.5px;top:832px;width:263.5px;height:1px;background:#ddd"></div>
<div class="abs" style="left:591.5px;top:840px;width:128.5px;height:22px;border:1px solid #bbb;border-radius:4px;background:#fff;overflow:hidden"><div class="abs" style="left:-1px;top:-1px;width:44.5px;height:22px;background:#1976d2"></div><div class="abs" style="left:83.5px;top:0;width:1px;height:22px;background:#bbb"></div><div class="abs" style="left:43px;top:0;width:1px;height:22px;background:#bbb"></div></div>
<div class="t" style="left:603px;top:847.2px;font-size:8px;color:#fff">Watts</div>
<div class="t" style="left:646px;top:847.2px;font-size:8px;color:#222">W/kg</div>
<div class="t" style="left:686px;top:847.2px;font-size:8px;color:#222">Zones</div>
<div class="abs bb" style="z-index:5"></div>
</div></body></html>
